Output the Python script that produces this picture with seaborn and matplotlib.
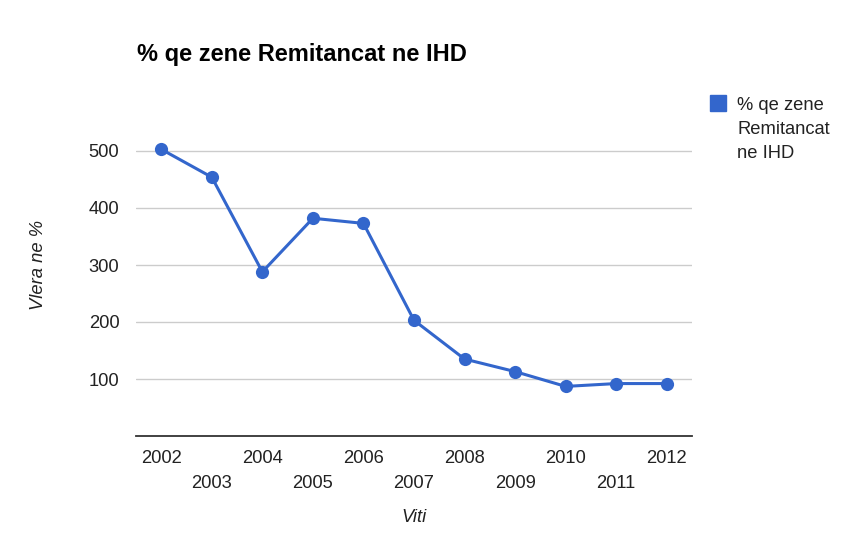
import matplotlib
matplotlib.use('Agg')
import matplotlib.pyplot as plt
import seaborn as sns
import pandas as pd

# %%
years = ['2002', '2003', '2004', '2005', '2006', '2007',
         '2008', '2009', '2010', '2011', '2012']
values = [503, 454, 288, 382, 373, 203, 135, 113, 87, 92, 92]
series_name = '% qe zene Remitancat ne IHD'
y_ticks = [100, 200, 300, 400, 500]

df = pd.DataFrame({'Viti': years, 'Vlera': values})

# %%
sns.set_theme(style='white')
plt.rcParams['font.family'] = ['Liberation Sans', 'DejaVu Sans']

blue = '#3366cc'
fs = 13.2
fig = plt.figure(figsize=(8.46, 5.40), dpi=100)
ax = fig.add_axes([136 / 846, 104 / 540, 556 / 846, 342 / 540])

sns.lineplot(data=df, x='Viti', y='Vlera', ax=ax, color=blue, linewidth=2.2,
             marker='o', markersize=9.5, markeredgewidth=0, legend=False)

ax.set_xlim(-0.5, len(years) - 0.5)
ax.set_ylim(0, 600)
ax.set_yticks(y_ticks)
ax.set_yticklabels([str(v) for v in y_ticks], color='#222222', fontsize=fs)

# even years on the first row, odd years staggered below
even = list(range(0, len(years), 2))
odd = list(range(1, len(years), 2))
ax.set_xticks(even)
ax.set_xticklabels([years[i] for i in even], color='#222222', fontsize=fs)
ax.set_xticks(odd, minor=True)
ax.set_xticklabels([years[i] for i in odd], minor=True, color='#222222', fontsize=fs)
ax.tick_params(axis='y', length=0, pad=12)
ax.tick_params(axis='x', which='major', length=0, pad=10)
ax.tick_params(axis='x', which='minor', length=0, pad=28)

ax.grid(axis='y', color='#cccccc', linewidth=1)
ax.grid(axis='x', visible=False)
for s in ['top', 'right', 'left']:
    ax.spines[s].set_visible(False)
ax.spines['bottom'].set_color('#333333')
ax.spines['bottom'].set_linewidth(1.3)

ax.set_xlabel('Viti', fontstyle='italic', color='#222222', fontsize=fs, labelpad=12)
ax.set_ylabel('Vlera ne %', fontstyle='italic', color='#222222', fontsize=fs, labelpad=30)

fig.text(137 / 846, 1 - 55 / 540, series_name, fontsize=17, fontweight='bold',
         color='black', va='center', ha='left')

sq = plt.Line2D([], [], marker='s', linestyle='none', color=blue, markersize=12)
leg = ax.legend([sq], ['% qe zene\nRemitancat\nne IHD'], loc='upper left',
                bbox_to_anchor=(709 / 846, 1 - 97 / 540), bbox_transform=fig.transFigure,
                frameon=False, fontsize=fs, handlelength=1.0, handletextpad=0.55,
                borderaxespad=0, borderpad=0)
for t in leg.get_texts():
    t.set_linespacing(1.52)
    t.set_color('#222222')
for col in leg._legend_handle_box.get_children():
    for item in col.get_children():
        item.align = 'top'

fig.savefig('out.png', dpi=100, facecolor='white')
